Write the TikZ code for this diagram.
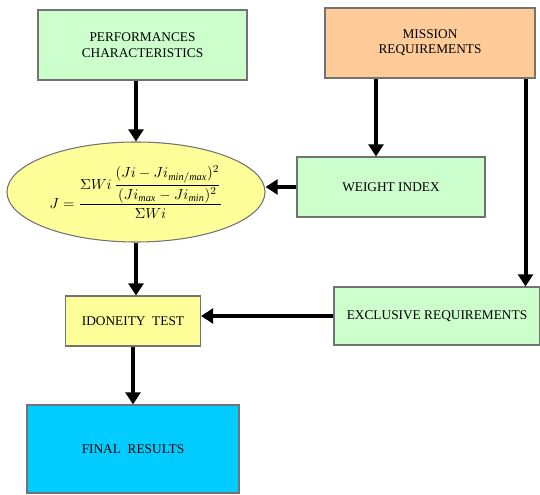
\documentclass[tikz,border=0pt]{standalone}
\usepackage{amsmath}
\usepackage{fontspec}
\setmainfont{Liberation Serif}
\usetikzlibrary{shapes.geometric,arrows.meta}

\tikzset{every picture/.style={line width=0.75pt}}
\tikzset{
  box/.style={draw=black!55, line width=0.8pt, align=center, font=\fontsize{10}{11.5}\selectfont},
  arr/.style={line width=3pt, -{Triangle[width=11pt,length=9pt]}}
}

\begin{document}
\begin{tikzpicture}[x=0.75pt,y=0.75pt,yscale=-1,xscale=1]
	\useasboundingbox (0,0) rectangle (540,495);

	%Shape: Rectangle
	\node[box, fill={rgb,255:red,204;green,255;blue,204}, minimum width=156.75pt, minimum height=52.5pt] (perf) at (142.5,45) {PERFORMANCES\\CHARACTERISTICS};
	%Shape: Rectangle
	\node[box, fill={rgb,255:red,255;green,204;blue,153}, minimum width=157.5pt, minimum height=52.5pt] (mission) at (430,43) {MISSION\\REQUIREMENTS};
	%Shape: Ellipse
	\node[draw=black!55, line width=0.8pt, ellipse, fill={rgb,255:red,255;green,255;blue,153}, minimum width=193.5pt, minimum height=75pt, inner sep=0pt] (ell) at (136,192)
	  {\fontsize{11}{13}\selectfont $J=\dfrac{\Sigma Wi\,\dfrac{(Ji-Ji_{\mathit{min/max}})^{2}}{(Ji_{\mathit{max}}-Ji_{\mathit{min}})^{2}}}{\Sigma Wi}$};
	%Shape: Rectangle
	\node[box, fill={rgb,255:red,204;green,255;blue,204}, minimum width=141pt, minimum height=45pt] (weight) at (391,187) {WEIGHT INDEX};
	%Shape: Rectangle
	\node[box, fill={rgb,255:red,204;green,255;blue,204}, minimum width=154.5pt, minimum height=43.5pt] (excl) at (437,316) {EXCLUSIVE REQUIREMENTS};
	%Shape: Rectangle
	\node[box, fill={rgb,255:red,255;green,255;blue,153}, minimum width=101.25pt, minimum height=37.5pt] (idon) at (133,321) {IDONEITY\ \ TEST};
	%Shape: Rectangle
	\node[box, fill={rgb,255:red,0;green,204;blue,255}, minimum width=159pt, minimum height=66pt] (final) at (133,449) {FINAL\ \ RESULTS};

	%Straight Lines
	\draw[arr] (ell.north |- perf.south) -- (ell.north);
	\draw[arr] ([xshift=-11.25pt]weight.north |- mission.south) -- ([xshift=-11.25pt]weight.north);
	\draw[arr] (weight.west) -- (weight.west -| ell.east);
	\draw[arr] ([xshift=-7.5pt]mission.south east) -- ([xshift=-7.5pt]mission.south east |- excl.north);
	\draw[arr] (ell.south) -- (ell.south |- idon.north);
	\draw[arr] (excl.west) -- (excl.west -| idon.east);
	\draw[arr] (idon.south) -- (final.north);

\end{tikzpicture}
\end{document}
